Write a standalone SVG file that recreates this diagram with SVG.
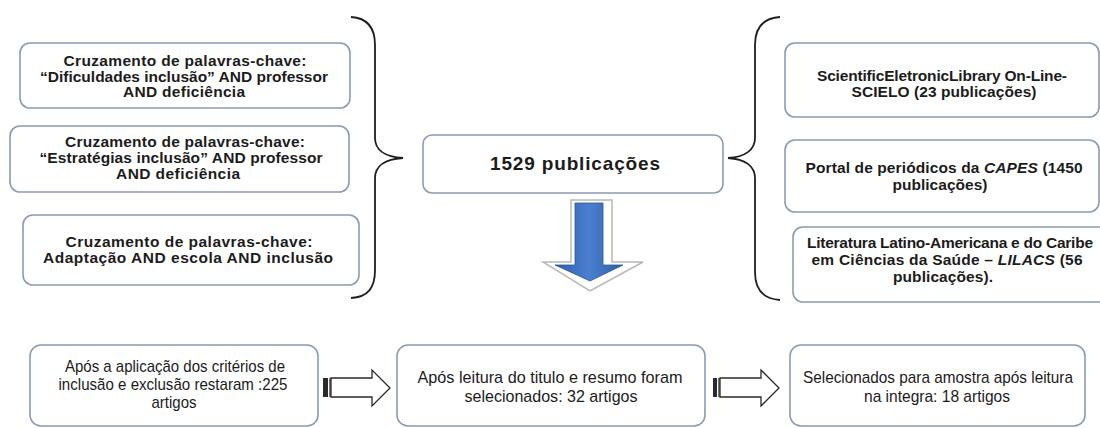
<svg xmlns="http://www.w3.org/2000/svg" width="1100" height="428" viewBox="0 0 1100 428">
<defs>
<style>
.box{fill:#ffffff;stroke:#8a9bb3;stroke-width:1.6}
.t{font-family:"Liberation Sans",Arial,sans-serif;font-weight:bold;font-size:15.5px;fill:#1c1c1c;text-anchor:middle}
.c{font-family:"Liberation Sans",Arial,sans-serif;font-weight:bold;font-size:19px;fill:#1c1c1c;text-anchor:middle}
.n{font-family:"Liberation Sans Narrow","Liberation Sans",Arial,sans-serif;font-size:17px;fill:#1c1c1c;text-anchor:middle}
.brace{fill:none;stroke:#1e1e1e;stroke-width:1.8}
.blk{fill:#ffffff;stroke:#2a2a2a;stroke-width:1.3}
</style>
<linearGradient id="blue" x1="0" y1="0" x2="1" y2="0">
<stop offset="0" stop-color="#2f5ea8"/>
<stop offset="0.5" stop-color="#4a7fd0"/>
<stop offset="1" stop-color="#2f5ea8"/>
</linearGradient>
</defs>
<rect width="1100" height="428" fill="#ffffff"/>

<g id="connectors">
<path class="brace" d="M351,17 C368,18 375,28 375,45 L375,138 C375,150 385,157 403,158 C385,159 375,166 375,178 L375,270 C375,288 368,297 351,298"/>
<path class="brace" d="M780,17 C763,18 755,28 755,45 L755,138 C755,150 745,157 728,158 C745,159 755,166 755,178 L755,272 C755,290 763,299 780,300"/>
<g id="down-arrow">
<path d="M571,200 L612,200 L612,262 L643,262 L590,291 L543,262 L571,262 Z" fill="#ffffff" stroke="#b8b8b8" stroke-width="1.5"/>
<path d="M575,203 L603,203 L603,265 L623,265 L590,281 L555,265 L575,265 Z" fill="url(#blue)" stroke="#2b579a" stroke-width="0.8"/>
</g>
<g id="arrow1">
<path class="blk" d="M331,378 L372,378 L372,370 L390,388 L372,406 L372,397 L331,397 Z"/>
<rect x="323" y="378" width="5" height="19" fill="#2a2a2a"/>
<line x1="330" y1="378" x2="330" y2="397" stroke="#2a2a2a" stroke-width="1.3"/>
</g>
<g id="arrow2">
<path class="blk" d="M720,378 L761,378 L761,370 L779,388 L761,406 L761,397 L720,397 Z"/>
<rect x="713" y="378" width="4" height="19" fill="#2a2a2a"/>
<line x1="719" y1="378" x2="719" y2="397" stroke="#2a2a2a" stroke-width="1.3"/>
</g>
</g>

<g id="kw1">
<rect class="box" x="20" y="43" width="330" height="65" rx="10"/>
<text class="t" x="185" y="66" textLength="243">Cruzamento de palavras-chave:</text>
<text class="t" x="184" y="82" textLength="288">“Dificuldades inclusão” AND professor</text>
<text class="t" x="184" y="97" textLength="122">AND deficiência</text>
</g>
<g id="kw2">
<rect class="box" x="10" y="126" width="339" height="66" rx="10"/>
<text class="t" x="185" y="147" textLength="240">Cruzamento de palavras-chave:</text>
<text class="t" x="181" y="163" textLength="283">“Estratégias inclusão” AND professor</text>
<text class="t" x="178" y="179" textLength="124">AND deficiência</text>
</g>
<g id="kw3">
<rect class="box" x="23" y="215" width="336" height="70" rx="10"/>
<text class="t" x="189" y="247" textLength="247">Cruzamento de palavras-chave:</text>
<text class="t" x="188" y="263" textLength="290">Adaptação AND escola AND inclusão</text>
</g>

<g id="total">
<rect class="box" x="423" y="135" width="300" height="58" rx="9"/>
<text class="c" x="575" y="170" textLength="170">1529 publicações</text>
</g>

<g id="scielo">
<rect class="box" x="785" y="43" width="314" height="74" rx="10"/>
<text class="t" x="942" y="81" textLength="250">ScientificEletronicLibrary On-Line-</text>
<text class="t" x="944" y="97" textLength="185">SCIELO (23 publicações)</text>
</g>
<g id="capes">
<rect class="box" x="785" y="140" width="314" height="72" rx="10"/>
<text class="t" x="944" y="173" textLength="277">Portal de periódicos da <tspan font-style="italic">CAPES</tspan> (1450</text>
<text class="t" x="940" y="190" textLength="95">publicações)</text>
</g>
<g id="lilacs">
<rect class="box" x="793" y="227" width="320" height="75" rx="10"/>
<text class="t" x="950" y="248" textLength="286">Literatura Latino-Americana e do Caribe</text>
<text class="t" x="947" y="265" textLength="271">em Ciências da Saúde – <tspan font-style="italic">LILACS</tspan> (56</text>
<text class="t" x="943" y="282" textLength="100">publicações).</text>
</g>

<g id="step1">
<rect class="box" x="30" y="345" width="288" height="81" rx="11"/>
<text class="n" x="175" y="372" textLength="220" lengthAdjust="spacingAndGlyphs">Após a aplicação dos critérios de</text>
<text class="n" x="173" y="390" textLength="229" lengthAdjust="spacingAndGlyphs">inclusão e exclusão restaram :225</text>
<text class="n" x="174" y="408" textLength="45" lengthAdjust="spacingAndGlyphs">artigos</text>
</g>
<g id="step2">
<rect class="box" x="397" y="345" width="308" height="81" rx="11"/>
<text class="n" x="550" y="383" textLength="265" lengthAdjust="spacingAndGlyphs">Após leitura do titulo e resumo foram</text>
<text class="n" x="551" y="402" textLength="173" lengthAdjust="spacingAndGlyphs">selecionados: 32 artigos</text>
</g>
<g id="step3">
<rect class="box" x="790" y="345" width="295" height="81" rx="11"/>
<text class="n" x="938" y="383" textLength="270" lengthAdjust="spacingAndGlyphs">Selecionados para amostra após leitura</text>
<text class="n" x="937" y="402" textLength="146" lengthAdjust="spacingAndGlyphs">na integra: 18 artigos</text>
</g>
</svg>
